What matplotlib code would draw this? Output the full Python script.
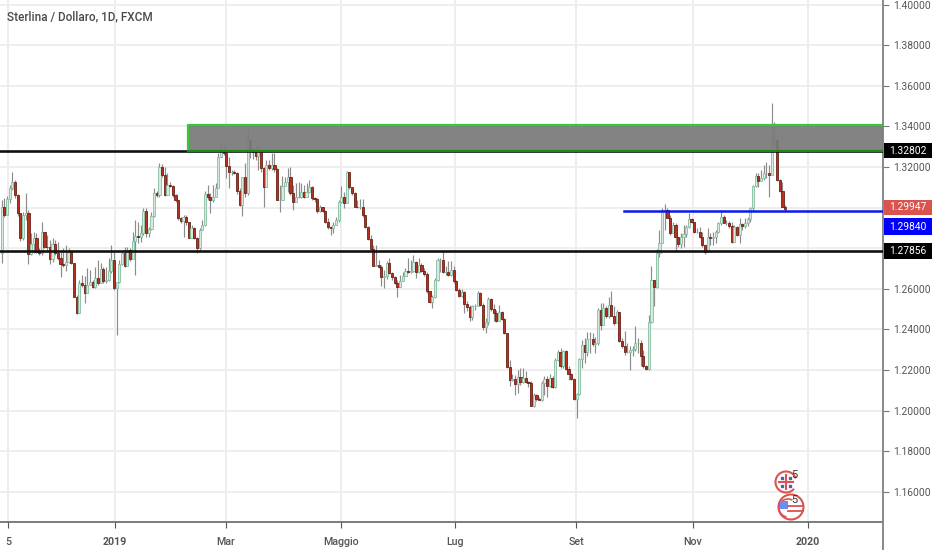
import matplotlib
matplotlib.use('Agg')
import matplotlib.pyplot as plt
from matplotlib.patches import Rectangle, Circle, Arc

plt.rcParams['font.family'] = ['Roboto', 'DejaVu Sans']

first_open = 1.2774

closes = [
    1.3001, 1.2964, 1.3041, 1.3098, 1.3128, 1.3062, 1.2975, 1.2849, 1.2964, 1.2972,
    1.2770, 1.2821, 1.2849, 1.2783, 1.2775, 1.2878, 1.2808, 1.2804, 1.2745, 1.2821,
    1.2775, 1.2750, 1.2722, 1.2716, 1.2734, 1.2783, 1.2729, 1.2562, 1.2483, 1.2627,
    1.2619, 1.2581, 1.2619, 1.2632, 1.2611, 1.2652, 1.2627, 1.2696, 1.2636, 1.2644,
    1.2690, 1.2742, 1.2603, 1.2632, 1.2723, 1.2775, 1.2714, 1.2791, 1.2745, 1.2837,
    1.2862, 1.2857, 1.2877, 1.2985, 1.2873, 1.2895, 1.2959, 1.3073, 1.3060, 1.3201,
    1.3160, 1.3062, 1.3111, 1.3108, 1.3062, 1.3037, 1.2947, 1.2936, 1.2955, 1.2931,
    1.2852, 1.2898, 1.2849, 1.2800, 1.2890, 1.2914, 1.3067, 1.3051, 1.3037, 1.3054,
    1.3098, 1.3251, 1.3275, 1.3267, 1.3205, 1.3177, 1.3177, 1.3169, 1.3082, 1.3013,
    1.3149, 1.3070, 1.3333, 1.3283, 1.3275, 1.3254, 1.3275, 1.3193, 1.3103, 1.3210,
    1.3193, 1.3210, 1.3188, 1.3037, 1.3037, 1.3106, 1.3128, 1.3152,
    1.3071, 1.3030, 1.3054, 1.3054, 1.3079, 1.3051, 1.3079, 1.3100, 1.3046, 1.3041,
    1.2981, 1.3002, 1.2981, 1.2931, 1.2904, 1.2899, 1.2915, 1.2940, 1.3030, 1.3054,
    1.3025, 1.3177, 1.3100, 1.3071, 1.3005, 1.3002, 1.3002, 1.2964, 1.2904, 1.2844,
    1.2795, 1.2713, 1.2718, 1.2707, 1.2657, 1.2661, 1.2726, 1.2680, 1.2657, 1.2631,
    1.2608, 1.2636, 1.2664, 1.2690, 1.2684, 1.2690, 1.2730, 1.2685, 1.2718, 1.2690,
    1.2674, 1.2587, 1.2535, 1.2562, 1.2644, 1.2740, 1.2740, 1.2685, 1.2685, 1.2669,
    1.2694, 1.2636, 1.2592, 1.2566, 1.2582, 1.2526, 1.2510, 1.2461, 1.2513, 1.2516,
    1.2579, 1.2521, 1.2411, 1.2434, 1.2549, 1.2500, 1.2480, 1.2439, 1.2484, 1.2453,
    1.2382, 1.2215, 1.2152, 1.2156, 1.2131, 1.2166, 1.2139, 1.2161, 1.2139, 1.2136,
    1.2024, 1.2079, 1.2057, 1.2054, 1.2136, 1.2156, 1.2123, 1.2161, 1.2116, 1.2251,
    1.2287, 1.2218, 1.2292, 1.2205, 1.2182, 1.2156, 1.2057, 1.2084, 1.2254, 1.2325,
    1.2287, 1.2352,
    1.2352, 1.2329, 1.2333, 1.2497, 1.2423, 1.2505, 1.2464, 1.2521, 1.2464, 1.2431,
    1.2488, 1.2341, 1.2316, 1.2287, 1.2287, 1.2300, 1.2303, 1.2333, 1.2333, 1.2267,
    1.2221, 1.2205, 1.2434, 1.2644, 1.2608, 1.2775, 1.2828, 1.2985, 1.2989, 1.2948,
    1.2874, 1.2915, 1.2854, 1.2821, 1.2857, 1.2871, 1.2903, 1.2943, 1.2931, 1.2882,
    1.2882, 1.2857, 1.2816, 1.2779, 1.2854, 1.2849, 1.2854, 1.2882, 1.2923, 1.2956,
    1.2926, 1.2926, 1.2907, 1.2833, 1.2903, 1.2866, 1.2920, 1.2907, 1.2926, 1.2943,
    1.2997, 1.3107, 1.3158, 1.3133, 1.3144, 1.3169, 1.3169, 1.3161, 1.3333, 1.3333,
    1.3136, 1.3084, 1.3005, 1.2994,
]

highs = [
    1.3037, 1.3046, 1.3057, 1.3111, 1.3177, 1.3136, 1.3067, 1.2919, 1.2980, 1.3073,
    1.2988, 1.2873, 1.2882, 1.2873, 1.2800, 1.2931, 1.2882, 1.2865, 1.2841, 1.2849,
    1.2841, 1.2832, 1.2783, 1.2800, 1.2816, 1.2800, 1.2791, 1.2709, 1.2570, 1.2644,
    1.2668, 1.2664, 1.2701, 1.2693, 1.2644, 1.2709, 1.2742, 1.2726, 1.2709, 1.2709,
    1.2750, 1.2816, 1.2783, 1.2627, 1.2742, 1.2783, 1.2808, 1.2808, 1.2800, 1.2882,
    1.2939, 1.2931, 1.2914, 1.2996, 1.2996, 1.2906, 1.2980, 1.3095, 1.3083, 1.3221,
    1.3215, 1.3201, 1.3169, 1.3128, 1.3111, 1.3067, 1.3037, 1.2955, 1.2964, 1.2964,
    1.2931, 1.2914, 1.2906, 1.2857, 1.2898, 1.2939, 1.3083, 1.3111, 1.3070, 1.3111,
    1.3119, 1.3267, 1.3319, 1.3308, 1.3275, 1.3251, 1.3185, 1.3185, 1.3177, 1.3095,
    1.3152, 1.3218, 1.3385, 1.3336, 1.3300, 1.3303, 1.3308, 1.3275, 1.3201, 1.3234,
    1.3234, 1.3267, 1.3270, 1.3193, 1.3111, 1.3155, 1.3152, 1.3193,
    1.3202, 1.3112, 1.3120, 1.3128, 1.3120, 1.3112, 1.3120, 1.3136, 1.3104, 1.3054,
    1.3046, 1.3013, 1.3005, 1.2989, 1.2948, 1.2910, 1.2931, 1.2956, 1.3038, 1.3104,
    1.3079, 1.3182, 1.3172, 1.3095, 1.3079, 1.3038, 1.3041, 1.3041, 1.2964, 1.2907,
    1.2866, 1.2817, 1.2817, 1.2743, 1.2718, 1.2694, 1.2735, 1.2751, 1.2685, 1.2661,
    1.2641, 1.2669, 1.2685, 1.2702, 1.2751, 1.2743, 1.2767, 1.2735, 1.2751, 1.2726,
    1.2702, 1.2685, 1.2587, 1.2571, 1.2652, 1.2751, 1.2751, 1.2784, 1.2710, 1.2735,
    1.2735, 1.2710, 1.2644, 1.2603, 1.2598, 1.2587, 1.2538, 1.2521, 1.2521, 1.2526,
    1.2587, 1.2582, 1.2530, 1.2456, 1.2562, 1.2554, 1.2526, 1.2497, 1.2521, 1.2489,
    1.2456, 1.2382, 1.2251, 1.2182, 1.2177, 1.2202, 1.2210, 1.2210, 1.2193, 1.2144,
    1.2144, 1.2087, 1.2084, 1.2067, 1.2144, 1.2169, 1.2172, 1.2182, 1.2169, 1.2259,
    1.2300, 1.2308, 1.2300, 1.2300, 1.2218, 1.2185, 1.2161, 1.2087, 1.2259, 1.2349,
    1.2357, 1.2385,
    1.2385, 1.2382, 1.2365, 1.2505, 1.2529, 1.2529, 1.2513, 1.2562, 1.2587, 1.2513,
    1.2497, 1.2488, 1.2357, 1.2390, 1.2333, 1.2316, 1.2316, 1.2415, 1.2357, 1.2349,
    1.2300, 1.2226, 1.2472, 1.2710, 1.2644, 1.2795, 1.2890, 1.2997, 1.3018, 1.2997,
    1.2964, 1.2931, 1.2923, 1.2857, 1.2874, 1.2915, 1.2915, 1.2975, 1.2948, 1.2931,
    1.2898, 1.2903, 1.2882, 1.2821, 1.2898, 1.2874, 1.2882, 1.2890, 1.2931, 1.2980,
    1.2964, 1.2939, 1.2936, 1.2931, 1.2915, 1.2910, 1.2948, 1.2923, 1.2948, 1.2956,
    1.3005, 1.3112, 1.3169, 1.3169, 1.3185, 1.3210, 1.3226, 1.3210, 1.3517, 1.3423,
    1.3341, 1.3140, 1.3128, 1.3013,
]

lows = [
    1.2726, 1.2955, 1.2964, 1.3021, 1.3087, 1.3046, 1.2959, 1.2837, 1.2841, 1.2939,
    1.2723, 1.2767, 1.2775, 1.2775, 1.2767, 1.2767, 1.2800, 1.2783, 1.2723, 1.2734,
    1.2767, 1.2742, 1.2657, 1.2709, 1.2690, 1.2726, 1.2723, 1.2559, 1.2476, 1.2480,
    1.2611, 1.2529, 1.2603, 1.2619, 1.2603, 1.2603, 1.2619, 1.2627, 1.2627, 1.2627,
    1.2636, 1.2677, 1.2595, 1.2373, 1.2627, 1.2718, 1.2709, 1.2718, 1.2739, 1.2775,
    1.2668, 1.2824, 1.2832, 1.2865, 1.2857, 1.2857, 1.2890, 1.2955, 1.3054, 1.3054,
    1.3152, 1.3057, 1.3062, 1.3103, 1.3054, 1.3029, 1.2939, 1.2923, 1.2857, 1.2914,
    1.2849, 1.2849, 1.2844, 1.2778, 1.2791, 1.2898, 1.2909, 1.3037, 1.2972, 1.3029,
    1.3087, 1.3095, 1.3247, 1.3259, 1.3144, 1.3095, 1.3160, 1.3165, 1.3067, 1.3008,
    1.2959, 1.3054, 1.3062, 1.3242, 1.3237, 1.3234, 1.3185, 1.3177, 1.3001, 1.3152,
    1.3185, 1.3185, 1.3177, 1.3037, 1.2980, 1.3037, 1.3111, 1.3078,
    1.3063, 1.2989, 1.3038, 1.3046, 1.3046, 1.3046, 1.3068, 1.3071, 1.3038, 1.3030,
    1.2972, 1.2976, 1.2976, 1.2926, 1.2894, 1.2866, 1.2874, 1.2915, 1.2931, 1.3025,
    1.2997, 1.3022, 1.3090, 1.3063, 1.3002, 1.2997, 1.2992, 1.2956, 1.2899, 1.2841,
    1.2789, 1.2710, 1.2713, 1.2702, 1.2615, 1.2603, 1.2648, 1.2674, 1.2644, 1.2625,
    1.2562, 1.2608, 1.2636, 1.2661, 1.2680, 1.2680, 1.2685, 1.2653, 1.2680, 1.2685,
    1.2664, 1.2579, 1.2530, 1.2505, 1.2554, 1.2636, 1.2685, 1.2677, 1.2669, 1.2661,
    1.2664, 1.2631, 1.2587, 1.2559, 1.2559, 1.2480, 1.2489, 1.2439, 1.2448, 1.2497,
    1.2513, 1.2513, 1.2398, 1.2382, 1.2423, 1.2489, 1.2439, 1.2434, 1.2472, 1.2444,
    1.2379, 1.2210, 1.2120, 1.2144, 1.2079, 1.2087, 1.2128, 1.2136, 1.2136, 1.2116,
    1.2021, 1.2018, 1.2046, 1.2051, 1.2046, 1.2079, 1.2067, 1.2116, 1.2111, 1.2111,
    1.2243, 1.2210, 1.2210, 1.2202, 1.2152, 1.2152, 1.2051, 1.1964, 1.2079, 1.2210,
    1.2234, 1.2267,
    1.2283, 1.2316, 1.2283, 1.2324, 1.2398, 1.2464, 1.2456, 1.2456, 1.2464, 1.2423,
    1.2431, 1.2336, 1.2308, 1.2275, 1.2283, 1.2201, 1.2267, 1.2292, 1.2283, 1.2218,
    1.2210, 1.2198, 1.2198, 1.2431, 1.2513, 1.2603, 1.2759, 1.2825, 1.2890, 1.2948,
    1.2866, 1.2874, 1.2784, 1.2808, 1.2800, 1.2808, 1.2857, 1.2898, 1.2926, 1.2877,
    1.2874, 1.2849, 1.2808, 1.2772, 1.2784, 1.2816, 1.2816, 1.2825, 1.2874, 1.2915,
    1.2923, 1.2915, 1.2898, 1.2828, 1.2861, 1.2861, 1.2825, 1.2890, 1.2898, 1.2907,
    1.2931, 1.2989, 1.3103, 1.3103, 1.3133, 1.3136, 1.3144, 1.3051, 1.3161, 1.3292,
    1.3133, 1.3079, 1.3002, 1.2980,
]

opens = [first_open] + closes[:-1]

y_ticks = [1.16, 1.18, 1.20, 1.22, 1.24, 1.26, 1.28, 1.30, 1.32, 1.34, 1.36, 1.38, 1.40]
hidden_y_labels = [1.28, 1.30]  # sit under the price tags in the original
x_tick_pos = [2.4, 42.4, 83.9, 126.9, 169.5, 214.8, 258.5, 301.5]
x_tick_labels = ['5', '2019', 'Mar', 'Maggio', 'Lug', 'Set', 'Nov', '2020']
bold_ticks = ['2019', '2020']

support_top = 1.32802
support_low = 1.27856
blue_level = 1.29840
last_price = 1.29947
zone_top = 1.3405
zone_start = 69.7
blue_start = 232.7

fig = plt.figure(figsize=(9.32, 5.5), dpi=100)
ax = fig.add_axes([0, 28 / 550, 883 / 932, 522 / 550])
ax.set_xlim(-0.64, 329.6)
ax.set_ylim(1.14512, 1.40227)

ax.grid(True, color='#eeeeee', lw=1.4)
ax.set_axisbelow(True)

# candles
for i in range(len(closes)):
    up = closes[i] >= opens[i]
    ax.vlines(i, lows[i], highs[i], color='#8c8c8c', lw=0.85, zorder=2)
    ax.bar(i, abs(closes[i] - opens[i]), bottom=min(opens[i], closes[i]), width=0.8,
           facecolor='#d6ebdf' if up else '#b8301f',
           edgecolor='#86bda1' if up else '#6a2015', lw=0.6, zorder=3)

# levels
ax.plot([-0.64, 329.6], [support_low, support_low], color='#111111', lw=1.9, zorder=4)
ax.plot([-0.64, 329.6], [support_top, support_top], color='#111111', lw=1.9, zorder=4)
ax.plot([blue_start, 329.6], [blue_level, blue_level], color='#0a18e8', lw=1.8, zorder=5)
ax.add_patch(Rectangle((zone_start, support_top), 329.6 - zone_start, zone_top - support_top,
                       facecolor='#7a7a7a', alpha=0.93, edgecolor='none', zorder=5))
ax.plot([zone_start, zone_start, 329.6], [support_top, zone_top, zone_top], color='#35c935', lw=1.6, zorder=6)
ax.plot([zone_start, 329.6], [support_top, support_top], color='#158a15', lw=1.5, zorder=6)

ax.yaxis.tick_right()
ax.set_yticks(y_ticks)
ax.set_yticklabels(['' if v in hidden_y_labels else '%.5f' % v for v in y_ticks],
                   fontsize=7.4, color='#555555')
ax.set_xticks(x_tick_pos)
ax.set_xticklabels(x_tick_labels, fontsize=7.7, color='#555555', fontweight='medium')
for lab in ax.get_xticklabels():
    if lab.get_text() in bold_ticks:
        lab.set_fontweight('bold')
ax.tick_params(axis='y', length=4, color='#777777', pad=3)
ax.tick_params(axis='x', length=4, color='#555555', pad=7)
ax.spines['top'].set_visible(False)
ax.spines['left'].set_visible(False)
ax.spines['right'].set_color('#888888')
ax.spines['right'].set_linewidth(1.4)
ax.spines['bottom'].set_color('#666666')
ax.spines['bottom'].set_linewidth(1.2)

# overlay in pixels, for the title, price tags and the two flags
ov = fig.add_axes([0, 0, 1, 1], facecolor='none')
ov.set_xlim(0, 932)
ov.set_ylim(550, 0)
ov.axis('off')

ov.text(7, 17, 'Sterlina / Dollaro, 1D, FXCM', fontsize=8.5, fontweight='medium',
        color='#4a4a4a', va='center', ha='left')
ov.plot([883, 883], [522, 550], color='#888888', lw=1.4)

tags = [(143, 158, '#000000', '1.32802'),
        (200, 215, '#d9534f', '1.29947'),
        (218, 235, '#0000ff', '1.29840'),
        (243, 259, '#000000', '1.27856')]
for y0, y1, col, txt in tags:
    ov.add_patch(Rectangle((884, y0), 48, y1 - y0, facecolor=col, edgecolor='none'))
    ov.text(908, (y0 + y1) / 2, txt, color='white', fontsize=7.4, ha='center', va='center')

# UK flag
ov.add_patch(Arc((786, 482), 21, 21, theta1=40, theta2=340, color='#d9534f', lw=1.5))
ov.plot([779, 793], [482, 482], color='#d9534f', lw=1.5)
ov.plot([786, 786], [475, 489], color='#d9534f', lw=1.5)
for px, py in [(782, 478), (790, 478), (782, 486), (790, 486)]:
    ov.plot(px, py, 's', color='#5a5aa8', ms=1.6)
ov.text(794, 475, '5', fontsize=8, color='#333333', ha='center', va='center')

# US flag
ov.add_patch(Circle((791, 507), 12.5, facecolor='none', edgecolor='#d9534f', lw=1.5))
ov.add_patch(Arc((788, 508), 18, 18, theta1=100, theta2=300, color='#d9534f', lw=1.2))
ov.add_patch(Rectangle((780, 501), 8, 8, facecolor='#6f8df0', edgecolor='none'))
for yy in (506, 511):
    ov.plot([788, 803], [yy, yy], color='#d9534f', lw=1.3)
ov.text(794, 500, '5', fontsize=8, color='#333333', ha='center', va='center')

fig.savefig('out.png', dpi=100)
